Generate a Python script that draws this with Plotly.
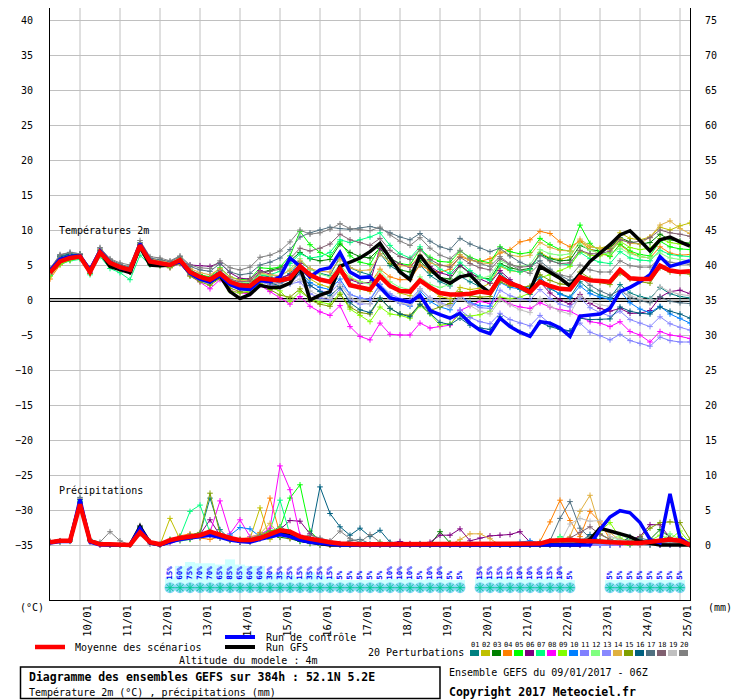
import pandas as pd
import plotly.graph_objects as go

# forecast steps (h) from the 09/01/2017 06Z run
hours = list(range(0, 385, 6))
times = pd.Timestamp("2017-01-09 06:00") + pd.to_timedelta(hours, unit="h")

# temperature 2m (C)
mean_t = [3.9, 5.5, 6.0, 6.2, 4.0, 6.8, 5.3, 4.7, 4.3, 7.8, 5.5, 5.3, 5.0,
          5.7, 4.0, 3.3, 2.9, 3.8, 2.6, 2.1, 2.0, 3.1, 3.0, 2.8, 3.1,
          4.8, 3.6, 2.9, 2.6, 4.5, 2.1, 1.8, 1.5, 3.4, 2.0, 1.3, 1.2, 2.8, 1.8, 1.0, 0.8,
          0.8, 0.9, 1.2, 1.0, 3.2, 2.4, 1.9, 1.1, 2.6, 2.0, 1.6, 1.5, 3.3, 2.8, 2.7, 2.6,
          4.3, 3.1, 3.0, 3.0, 4.9, 4.2, 4.0, 4.1]
ctrl_t = [4.2, 5.8, 6.2, 6.3, 4.3, 7.0, 5.4, 4.6, 4.3, 8.0, 5.6, 5.2, 5.0,
          5.5, 3.8, 3.0, 2.6, 3.5, 2.2, 1.6, 1.5, 2.8, 2.6, 3.3, 6.0,
          4.8, 3.3, 4.3, 4.6, 6.8, 4.0, 3.2, 3.3, 1.8, 0.3, 0.0, -0.3, 0.7, -1.5, -2.1, -2.6,
          -1.9, -3.3, -4.3, -4.8, -2.6, -3.8, -4.6, -5.2, -3.1, -3.3, -4.0, -5.2, -2.3, -2.2, -2.0, -1.2,
          1.2, 1.8, 2.6, 3.6, 6.2, 4.8, 5.2, 5.6]
gfs_t = [4.0, 5.6, 6.0, 6.2, 4.1, 6.9, 4.8, 4.3, 3.9, 7.6, 5.0, 4.9, 5.0,
         5.6, 3.9, 3.1, 2.6, 3.5, 1.2, 0.2, 0.8, 2.1, 1.8, 1.8, 2.4,
         4.8, 0.0, 0.7, 1.2, 4.8, 5.4, 6.0, 6.9, 8.1, 6.0, 4.0, 2.9, 6.4, 4.5, 3.1, 2.4,
         3.3, 3.6, 2.1, 1.0, 3.3, 2.4, 1.8, 1.3, 4.8, 4.0, 3.1, 2.0, 3.8, 5.5, 6.7, 7.9,
         9.3, 9.9, 8.5, 7.0, 8.6, 9.0, 8.3, 7.7]

p01_t = [4.2, 6.3, 6.6, 6.5, 4.4, 7.2, 5.6, 4.9, 4.6, 8.1, 5.9, 5.6, 5.2,
         5.9, 4.3, 3.6, 3.2, 4.3, 2.9, 2.4, 2.3, 3.6, 3.3, 2.9, 3.8,
         5.5, 4.4, 3.8, 3.5, 6.2, 4.6, 4.0, 3.6, 6.6, 4.9, 4.0, 3.3, 5.0, 3.5, 2.6, 2.0,
         3.4, 2.6, 1.9, 1.2, 3.8, 2.6, 1.5, 0.8, 2.9, 1.6, 0.9, 0.4, 2.6, 1.4, 0.7, 0.3,
         2.2, 1.0, 0.5, 0.2, 1.8, 0.9, 0.5, 0.3]
p02_t = [3.6, 5.2, 5.8, 6.0, 3.8, 6.6, 5.1, 4.5, 4.1, 7.6, 5.4, 5.1, 4.8,
         5.5, 3.6, 2.9, 2.5, 3.4, 2.1, 1.5, 1.3, 2.6, 2.2, 1.9, 2.5,
         4.4, 3.0, 2.2, 1.8, 4.0, 2.4, 1.6, 1.2, 3.5, 2.0, 1.0, 0.6, 2.8, 1.6, 0.5, 0.2,
         1.8, 1.5, 1.7, 2.4, 4.8, 4.2, 4.0, 4.3, 6.8, 6.0, 5.8, 6.2, 8.4, 7.6, 7.4, 7.8,
         9.6, 8.8, 8.6, 9.0, 10.4, 10.0, 10.6, 11.0]
p03_t = [4.1, 5.9, 6.4, 6.4, 4.2, 7.0, 5.2, 4.4, 4.0, 7.5, 5.2, 5.0, 4.8,
         5.4, 3.6, 2.8, 2.4, 3.5, 2.2, 1.9, 2.3, 3.9, 4.2, 4.6, 5.6,
         6.8, 5.9, 5.6, 5.8, 8.0, 6.8, 6.2, 6.0, 7.4, 5.2, 4.3, 4.0, 5.6, 4.0, 3.2, 3.0,
         4.9, 3.8, 3.2, 3.0, 5.2, 4.6, 4.3, 4.5, 6.6, 5.9, 5.6, 5.7, 7.8, 7.2, 7.0, 7.4,
         8.9, 8.3, 8.0, 8.2, 9.4, 8.6, 8.4, 8.1]
p04_t = [3.0, 5.0, 5.7, 6.0, 3.9, 6.5, 5.0, 4.3, 4.0, 7.3, 5.3, 5.2, 4.9,
         5.6, 3.9, 3.1, 2.7, 3.6, 2.4, 1.9, 1.7, 2.9, 2.6, 2.3, 3.0,
         4.8, 3.5, 2.9, 2.6, 4.6, 3.1, 2.6, 2.4, 4.4, 3.3, 2.9, 2.9, 5.0, 4.2, 4.0, 4.4,
         6.2, 5.7, 5.5, 5.9, 6.7, 7.2, 8.3, 8.6, 9.8, 9.5, 8.3, 7.6, 8.4, 7.2, 6.6, 6.3,
         7.9, 6.8, 6.2, 6.0, 7.6, 6.7, 6.4, 6.5]
p05_t = [4.3, 6.0, 6.4, 6.4, 4.1, 6.9, 5.5, 4.8, 4.5, 7.9, 5.6, 5.4, 5.2,
         6.0, 4.2, 3.6, 3.3, 4.6, 3.3, 2.9, 3.0, 4.6, 4.5, 4.7, 6.3,
         9.8, 7.9, 6.8, 6.2, 8.3, 6.3, 5.4, 5.1, 7.6, 6.0, 5.2, 5.0, 7.3, 6.1, 5.5, 5.4,
         7.0, 6.1, 5.6, 5.3, 7.6, 6.9, 6.6, 6.8, 8.8, 7.9, 7.2, 7.0, 10.7, 8.1, 6.9, 6.2,
         8.0, 7.0, 6.5, 6.3, 8.4, 7.6, 7.3, 7.2]
p06_t = [3.8, 5.6, 6.1, 6.2, 4.0, 6.6, 5.1, 4.6, 4.3, 7.7, 5.4, 5.2, 4.9,
         5.5, 5.0, 4.9, 4.8, 5.3, 3.9, 3.1, 3.0, 4.2, 3.7, 3.2, 3.6,
         5.2, 3.8, 3.1, 2.8, 4.4, 2.9, 2.4, 2.5, 7.4, 6.0, 5.1, 4.7, 6.3, 4.8, 3.9, 3.5,
         5.0, 3.9, 3.0, 2.4, 4.2, 2.9, 1.8, 1.2, 2.6, 1.0, 0.0, -0.6, 0.8, -0.5, -1.2, -1.6,
         -1.2, -1.9, -1.9, -1.5, 0.4, 1.2, 1.4, 0.9]
p07_t = [3.5, 5.1, 5.6, 5.8, 3.6, 6.2, 4.5, 3.9, 2.9, 6.4, 5.0, 4.9, 4.7,
         5.3, 3.8, 3.1, 2.7, 3.9, 2.6, 2.1, 2.0, 3.4, 3.6, 4.1, 5.2,
         6.6, 6.0, 6.2, 6.8, 8.6, 8.2, 8.6, 9.0, 9.6, 7.8, 6.6, 6.0, 7.6, 5.6, 4.4, 3.8,
         5.4, 4.2, 3.3, 2.8, 5.0, 4.3, 4.0, 4.4, 6.5, 5.7, 5.2, 5.0, 6.8, 5.9, 5.4, 5.2,
         6.9, 6.0, 5.7, 5.6, 7.1, 6.5, 6.3, 6.2]
p08_t = [3.7, 5.4, 5.9, 6.0, 3.9, 6.5, 5.0, 4.4, 4.0, 7.4, 5.2, 5.0, 4.6,
         5.2, 3.5, 2.6, 1.6, 2.9, 1.4, 1.0, 0.9, 2.1, 1.2, 0.3, -0.6,
         0.5, -0.9, -1.7, -2.2, -0.8, -3.8, -5.2, -5.7, -3.3, -4.9, -5.0, -5.0, -3.3, -4.0, -3.8, -3.6,
         -1.5, -0.8, -0.2, -0.5, 0.3, -0.6, -1.0, -1.2, -0.4, -1.0, -1.4, -1.6, -2.4, -3.1, -3.3, -3.8,
         -3.1, -4.5, -5.0, -6.0, -4.5, -5.0, -5.2, -5.5]
p09_t = [3.4, 5.1, 5.7, 6.0, 3.8, 6.4, 4.9, 4.4, 4.1, 7.5, 5.2, 5.0, 4.6,
         5.3, 3.6, 2.8, 2.3, 3.2, 1.3, 1.0, 1.3, 2.3, 1.8, 1.3, -0.2,
         1.2, 0.2, -0.3, -0.6, 1.0, -1.3, -2.2, -3.1, -1.0, -2.0, -2.2, -2.6, -0.8, -2.0, -3.6, -3.4,
         -2.0, -2.3, -2.1, -1.6, 0.4, 0.2, 0.4, 1.0, 3.2, 3.6, 4.2, 4.8, 7.0, 6.4, 6.3, 6.8,
         8.4, 7.5, 7.2, 7.4, 8.8, 8.2, 8.0, 7.8]
p10_t = [4.0, 5.7, 6.2, 6.3, 4.1, 6.9, 5.4, 4.7, 4.4, 7.9, 5.3, 5.1, 4.9,
         5.6, 3.8, 3.0, 2.6, 3.6, 2.5, 1.9, 1.8, 3.1, 2.8, 2.4, 2.9,
         4.1, 2.5, 1.8, 1.5, 3.0, 0.8, 0.3, 0.0, 2.2, 0.6, -0.4, -0.9, 1.3, -0.2, -1.0, -1.4,
         0.6, -0.4, -0.8, -0.9, 2.5, 1.8, 1.6, 1.9, 3.3, 1.8, 0.8, 0.3, 2.0, 0.9, 0.4, 0.1,
         1.3, -0.4, -1.3, -1.8, -0.9, -2.0, -2.6, -3.3]
p11_t = [3.8, 5.5, 6.0, 6.1, 3.9, 6.7, 5.2, 4.6, 4.2, 7.6, 5.4, 5.1, 4.8,
         5.5, 4.1, 3.4, 3.0, 4.0, 2.7, 2.2, 1.9, 3.0, 2.7, 2.0, 2.3,
         2.6, 0.9, 0.3, 0.0, 1.6, 0.0, -0.6, -0.5, 1.6, 0.2, -0.5, -0.8, 0.5, -1.3, -2.1, -2.6,
         -1.4, -2.5, -3.1, -3.4, -1.9, -2.8, -3.3, -3.7, -2.2, -3.4, -4.0, -4.5, -3.3, -4.6, -5.1, -5.7,
         -4.9, -5.8, -6.2, -6.6, -5.3, -5.8, -6.0, -6.0]
p12_t = [4.0, 5.8, 6.3, 6.4, 4.3, 7.1, 5.5, 4.8, 4.5, 7.9, 5.7, 5.5, 5.2,
         5.8, 4.1, 3.4, 3.1, 4.1, 2.9, 2.5, 2.5, 3.7, 3.5, 3.4, 4.4,
         5.9, 4.4, 3.7, 3.3, 5.1, 3.3, 2.6, 2.3, 4.1, 2.6, 1.8, 1.5, 3.3, 2.2, 1.8, 2.2,
         4.0, 3.3, 3.1, 3.4, 5.6, 5.0, 4.8, 5.0, 7.2, 6.6, 6.4, 6.6, 8.0, 7.1, 6.7, 6.6,
         7.4, 6.6, 6.2, 6.0, 6.7, 6.0, 5.8, 5.6]
p13_t = [3.9, 5.6, 6.1, 6.2, 4.0, 6.8, 5.4, 4.8, 4.4, 7.7, 5.5, 5.3, 5.0,
         5.5, 3.7, 2.7, 2.3, 3.6, 2.3, 1.6, 1.5, 2.6, 2.2, 1.8, 2.3,
         3.7, 2.0, 1.3, 1.0, 2.5, 0.8, 0.3, 0.1, 2.3, 0.9, 0.2, 0.0, 1.6, 0.3, -0.4, -0.8,
         0.6, -0.5, -1.1, -1.2, 1.4, 0.6, 0.2, 0.0, 1.5, 0.2, -0.6, -1.0, 0.3, -1.1, -1.8, -2.3,
         -1.6, -2.8, -3.3, -3.8, -2.4, -3.4, -3.9, -4.3]
p14_t = [4.2, 6.0, 6.4, 6.5, 4.4, 7.2, 5.7, 5.0, 4.6, 8.1, 5.9, 5.7, 5.4,
         6.0, 4.5, 3.9, 3.6, 4.5, 3.3, 2.8, 2.8, 3.9, 3.6, 3.5, 4.2,
         5.6, 4.5, 4.1, 4.0, 5.8, 4.6, 4.2, 4.3, 6.6, 5.4, 4.9, 4.8, 6.4, 5.3, 4.9, 5.0,
         6.5, 5.7, 5.3, 5.2, 7.0, 6.4, 6.2, 6.4, 8.2, 7.5, 7.1, 7.0, 8.7, 7.7, 7.3, 7.2,
         8.8, 8.1, 8.0, 9.0, 10.7, 11.3, 10.2, 9.5]
p15_t = [3.7, 5.4, 5.9, 6.1, 3.8, 6.5, 5.0, 4.4, 4.0, 7.4, 5.1, 4.9, 4.7,
         5.2, 3.4, 2.6, 2.1, 3.1, 1.7, 1.2, 1.0, 2.3, 1.5, 0.7, 0.4,
         1.6, 0.0, -0.6, -0.9, 0.8, -1.0, -1.8, -2.0, 0.2, -1.2, -2.0, -2.2, -0.6, -1.5, -1.0, -0.5,
         1.2, 0.6, 0.4, 0.5, 2.6, 2.0, 1.8, 2.0, 3.6, 2.8, 2.3, 2.1, 4.0, 3.1, 2.5, 2.2,
         3.8, 3.0, 2.6, 2.4, 4.6, 4.0, 3.8, 3.7]
p16_t = [4.3, 6.2, 6.5, 6.5, 4.3, 7.0, 5.5, 4.9, 4.5, 7.9, 5.7, 5.4, 5.1,
         5.7, 4.0, 3.2, 2.8, 3.8, 2.4, 1.8, 1.7, 2.9, 2.5, 2.0, 2.4,
         3.9, 2.1, 1.2, 0.6, 1.9, -0.4, -1.4, -1.8, 0.3, -1.2, -2.0, -2.4, -0.6, -1.9, -3.2, -3.5,
         -2.6, -3.6, -4.0, -4.2, -2.4, -3.6, -4.6, -5.0, -3.2, -3.8, -4.2, -4.4, -2.6, -2.8, -2.8, -2.7,
         -1.0, -1.6, -1.9, -2.0, -1.0, -1.6, -2.0, -2.6]
p17_t = [4.4, 6.4, 6.8, 6.6, 4.5, 7.4, 5.8, 5.1, 4.7, 8.2, 6.0, 5.8, 5.5,
         6.2, 4.8, 4.3, 4.1, 5.2, 4.0, 3.6, 3.8, 5.0, 5.4, 6.0, 7.2,
         9.0, 9.6, 10.0, 10.4, 10.2, 10.1, 10.3, 10.5, 10.2, 9.6, 9.0, 8.6, 9.5, 8.4, 7.6, 7.2,
         8.8, 8.0, 7.4, 6.9, 7.4, 6.3, 5.4, 4.8, 5.6, 4.4, 3.5, 2.8, 3.4, 2.1, 1.3, 0.7,
         1.4, 0.4, -0.1, -0.4, 0.5, -0.2, -0.4, -0.5]
p18_t = [4.1, 5.9, 6.3, 6.4, 4.2, 7.0, 5.4, 4.8, 4.4, 7.8, 5.6, 5.3, 5.1,
         5.7, 4.0, 3.4, 3.1, 4.2, 3.0, 2.6, 2.7, 4.0, 4.1, 4.4, 5.9,
         7.4, 7.0, 7.4, 8.0, 9.4, 8.6, 8.2, 7.8, 8.8, 7.1, 6.2, 5.8, 7.2, 5.8, 5.0, 4.7,
         6.1, 5.2, 4.6, 4.3, 5.9, 5.1, 4.7, 4.8, 6.4, 5.6, 5.2, 5.3, 7.1, 6.6, 6.6, 7.0,
         8.6, 8.2, 8.4, 8.9, 10.0, 9.6, 9.4, 9.1]
p19_t = [3.9, 5.6, 6.1, 6.3, 4.1, 6.9, 5.2, 4.5, 4.1, 7.6, 5.3, 5.2, 5.0,
         5.5, 3.9, 3.3, 2.9, 3.9, 2.7, 2.2, 2.1, 3.2, 2.8, 2.2, 2.4,
         3.0, 1.3, 0.6, 0.2, 2.2, 0.4, -0.3, -0.6, 1.8, 0.3, -0.4, -0.7, 1.6, 0.2, -0.6, -1.0,
         0.4, -0.8, -1.6, -2.0, 0.0, -0.7, -1.4, -1.8, 0.2, -0.9, -1.6, -2.0, 0.6, -0.2, -0.7, -0.9,
         1.4, 0.6, 0.2, 0.0, 1.9, 1.2, 0.8, 0.6]
p20_t = [4.5, 6.5, 6.8, 6.6, 4.6, 7.5, 5.9, 5.3, 5.0, 8.5, 6.2, 6.0, 5.6,
         6.3, 5.0, 4.6, 4.5, 5.6, 4.6, 4.3, 4.7, 6.1, 6.4, 7.0, 8.3,
         10.0, 9.4, 9.6, 10.1, 10.9, 10.2, 10.0, 9.9, 10.4, 9.3, 8.4, 7.8, 8.9, 7.4, 6.4, 5.9,
         7.1, 5.9, 5.2, 4.8, 6.2, 5.1, 4.3, 3.8, 5.2, 4.2, 3.6, 3.3, 5.0, 4.3, 4.0, 4.0,
         5.6, 4.9, 4.7, 4.7, 6.0, 5.4, 5.2, 5.1]

# precipitation (mm / 6h)
mean_p = [0.4, 0.6, 0.6, 5.8, 0.6, 0.1, 0.1, 0.0, 0.0, 1.8, 0.4, 0.1, 0.7,
          1.0, 1.2, 1.4, 1.9, 1.4, 1.0, 0.7, 0.7, 1.0, 1.5, 2.1, 1.9,
          1.2, 0.9, 0.6, 0.4, 0.2, 0.1, 0.1, 0.1, 0.1, 0.1, 0.1, 0.1, 0.1, 0.1, 0.2, 0.2,
          0.2, 0.2, 0.2, 0.1, 0.1, 0.2, 0.2, 0.1, 0.2, 0.6, 0.7, 0.7, 0.6, 0.6, 0.5, 0.4,
          0.3, 0.3, 0.3, 0.5, 0.6, 0.8, 0.6, 0.0]
ctrl_p = [0.3, 0.5, 0.5, 6.5, 0.4, 0, 0, 0, 0, 2.4, 0.3, 0, 0.4,
          0.8, 1.0, 1.2, 1.4, 1.1, 0.7, 0.5, 0.4, 0.8, 1.2, 1.5, 1.2,
          0.7, 0.4, 0.2, 0.1, 0, 0, 0, 0, 0, 0, 0, 0, 0, 0, 0, 0,
          0, 0, 0, 0, 0, 0, 0, 0, 0, 0, 0, 0, 0, 0, 2.2, 4.0,
          4.9, 4.6, 3.2, 0.8, 0.3, 7.3, 1.0, 0]
gfs_p = [0.4, 0.6, 0.6, 6.0, 0.6, 0.1, 0, 0, 0, 2.6, 0.3, 0, 0.5,
         0.9, 1.1, 1.3, 1.6, 1.2, 0.8, 0.6, 0.5, 0.9, 1.4, 1.7, 1.3,
         0.7, 0.4, 0.2, 0, 0, 0, 0, 0, 0, 0, 0, 0, 0, 0, 0, 0,
         0, 0, 0, 0, 0, 0, 0, 0, 0, 0, 0, 0, 0, 0.8, 2.4, 2.0,
         1.6, 1.2, 0.5, 0.2, 0, 0, 0, 0]

p01_p = [0.4, 0.6, 0.6, 6.2, 0.7, 0.1, 0, 0, 0, 2.2, 0.3, 0, 0.5,
         1.0, 1.3, 1.6, 6.7, 2.2, 0.8, 0.4, 0.6, 1.2, 1.8, 2.6, 1.8,
         0.8, 0.4, 0.2, 0.1, 0, 0, 0, 0, 0, 0.1, 0, 0, 0.2, 0, 0, 0,
         0, 0, 0, 0, 0, 0, 0, 0, 0, 0.1, 0.3, 0.6, 0.2, 0.1, 0, 0,
         0.2, 0.4, 0.1, 0, 0.3, 0.2, 0.1, 0]
p02_p = [0.3, 0.5, 0.5, 5.4, 0.5, 0, 0, 0, 0, 1.6, 0.2, 0, 3.8,
         0.8, 1.0, 1.4, 2.0, 1.1, 0.6, 0.8, 0.9, 5.3, 0.8, 1.6, 1.2,
         0.6, 0.3, 0.1, 0, 0, 0, 0, 0, 0, 0, 0, 0, 0, 0, 0, 0.2,
         0.1, 0, 0, 0, 0, 0, 0, 0.2, 0.3, 0.6, 0.4, 0.2, 0.8, 0.4, 0.2, 0.1,
         0.4, 1.1, 0.7, 0.3, 0.2, 0.6, 1.2, 0]
p03_p = [0.4, 0.5, 0.7, 6.0, 0.6, 0.1, 0, 0, 0, 2.6, 0.4, 0, 0.8,
         1.1, 0.9, 1.2, 1.6, 1.0, 0.7, 0.5, 0.4, 0.9, 1.4, 1.1, 0.9,
         0.5, 0.2, 0, 0, 0, 0, 0.2, 0, 0, 0, 0, 0, 0, 0, 1.9, 0.3,
         0, 0, 0, 0, 0, 0, 0, 0, 0, 0.2, 0.4, 0.3, 0, 0.1, 0.3, 0.6,
         0.4, 0.2, 0.1, 0.8, 2.2, 1.1, 0.3, 0]
p04_p = [0.5, 0.6, 0.6, 5.8, 0.5, 0, 0, 0, 0, 1.9, 0.3, 0, 0.6,
         1.3, 1.6, 1.0, 0.8, 1.2, 0.9, 0.6, 0.4, 1.8, 6.7, 1.6, 1.0,
         0.7, 0.3, 0.1, 0, 0, 0, 0, 0, 0, 0, 0.2, 0.1, 0, 0, 0, 0,
         0, 0.1, 0.2, 0, 0, 0, 0, 0, 0.5, 3.3, 6.4, 3.5, 1.2, 4.8, 3.3, 0.8,
         0.2, 0.1, 0, 0, 0, 0.2, 0.1, 0]
p05_p = [0.3, 0.5, 0.6, 5.6, 0.6, 0, 0, 0, 0, 2.0, 0.2, 0, 0.4,
         0.6, 0.8, 1.2, 1.7, 1.4, 0.9, 0.6, 0.8, 1.2, 2.0, 2.4, 6.7,
         8.6, 2.0, 0.6, 0.2, 0, 0, 0, 0, 0, 0, 0, 0, 0, 0, 0, 0,
         0, 0, 0, 0, 0, 0, 0, 0, 0.2, 0.4, 0.3, 0.1, 0, 0, 0.4, 0.2,
         0.1, 0, 0.3, 0.6, 0.4, 0.2, 0.1, 0]
p06_p = [0.4, 0.6, 0.6, 6.1, 0.6, 0.1, 0, 0, 0, 2.3, 0.4, 0, 0.5,
         0.9, 1.1, 1.5, 3.6, 1.4, 0.8, 0.4, 0.6, 1.0, 1.6, 2.2, 3.5,
         3.4, 1.6, 0.8, 0.4, 0.2, 0, 0, 0, 0, 0.3, 0.5, 0.2, 0.1, 0.4, 1.4, 1.4,
         2.3, 0.6, 1.0, 1.3, 1.4, 1.5, 1.9, 0.4, 0.2, 0.1, 0, 0, 0, 0.2, 0.3, 0.2,
         0.4, 0.8, 1.2, 2.9, 2.9, 1.0, 0.4, 0]
p07_p = [0.4, 0.5, 0.6, 6.4, 0.8, 0.2, 0, 0, 0, 2.1, 0.3, 0, 0.7,
         1.2, 4.8, 5.7, 1.8, 1.2, 0.8, 0.6, 0.9, 1.6, 2.1, 6.4, 1.5,
         0.6, 0.3, 0.1, 0, 0, 0, 0, 0, 0, 0, 0, 0, 0, 0, 0, 0,
         0.3, 0.1, 0, 0, 0, 0, 0, 0, 0, 0.4, 1.2, 0.6, 0.2, 0, 0, 0.5,
         0.8, 0.3, 0.1, 0, 0.2, 0.4, 0.1, 0]
p08_p = [0.3, 0.5, 0.6, 5.5, 0.5, 0, 0, 0, 0, 1.8, 0.2, 0, 0.3,
         0.7, 1.0, 1.3, 1.8, 6.3, 1.6, 3.6, 1.2, 1.4, 2.4, 11.3, 7.9,
         1.4, 0.6, 0.2, 0, 0, 0, 0, 0, 0, 0, 0, 0, 0, 0, 0, 0,
         0, 0, 0, 0, 0, 0, 0, 0, 0, 0, 0.2, 0.1, 0, 0, 0, 0,
         0, 0.2, 0.3, 0.1, 0, 0, 0, 0]
p09_p = [0.4, 0.6, 0.6, 5.9, 0.6, 0.1, 0, 0, 0, 2.0, 0.3, 0, 0.6,
         0.8, 1.2, 1.4, 1.5, 1.2, 1.0, 0.7, 0.6, 1.1, 1.7, 1.9, 1.4,
         1.0, 0.5, 0.2, 0.1, 0, 0, 0, 0, 0.4, 0.2, 0, 0, 0, 0, 0, 0,
         0, 0, 0, 0, 0, 0, 0, 0, 0, 0.3, 0.6, 0.2, 0.4, 1.0, 2.0, 3.2,
         1.0, 0.4, 0.2, 0.6, 1.4, 0.8, 2.0, 0.3]
p10_p = [0.4, 0.6, 0.6, 6.0, 0.6, 0.1, 0, 0, 0, 2.4, 0.3, 0, 0.5,
         1.0, 1.4, 1.7, 1.9, 1.3, 1.4, 2.5, 2.3, 1.2, 1.4, 1.9, 1.6,
         0.9, 0.5, 0.3, 0.1, 0, 0, 0, 0, 0, 0, 0, 0, 0, 0, 0, 0,
         0, 0, 0, 0, 0, 0, 0.4, 0.6, 0.3, 0.2, 0.1, 0, 0.6, 0.3, 0.1, 0,
         0.1, 0.3, 0.4, 0.2, 0.1, 0.2, 0.1, 0]
p11_p = [0.4, 0.5, 0.6, 5.7, 0.5, 0, 0, 0, 0, 1.7, 0.2, 0, 0.4,
         0.8, 1.1, 1.2, 1.4, 1.0, 0.8, 0.5, 0.4, 0.9, 1.3, 1.5, 1.3,
         0.8, 0.4, 0.2, 0, 0, 0, 0, 0, 0, 0, 0, 0, 0, 0, 0, 0,
         0, 0, 0, 0, 0, 0, 0, 0, 0, 0, 0.1, 0.2, 0.3, 0.1, 0, 0,
         0, 0.1, 0.2, 0.3, 0.4, 0.6, 0.3, 0]
p12_p = [0.3, 0.5, 0.6, 6.3, 0.7, 0.1, 0, 0, 0, 2.2, 0.3, 0, 0.6,
         1.0, 1.2, 1.4, 2.1, 1.4, 1.0, 0.8, 0.7, 1.3, 1.8, 2.4, 1.9,
         1.1, 0.6, 0.3, 0, 0, 0, 0, 0, 0.3, 0.2, 0, 0, 0, 0, 0, 0,
         0, 0, 0, 0, 0, 0, 0, 0, 0, 0.4, 1.1, 0.5, 0.2, 0.4, 0.8, 0.6,
         1.5, 0.8, 0.3, 0.2, 0.6, 1.6, 0.8, 0]
p13_p = [0.4, 0.6, 0.6, 5.2, 0.5, 0, 0, 0, 0, 1.6, 0.2, 0, 0.4,
         0.7, 1.0, 1.3, 1.5, 1.1, 0.8, 0.6, 0.5, 0.9, 1.4, 1.6, 1.5,
         0.9, 0.5, 0.2, 0, 0, 0, 0, 0, 0, 0, 0, 0, 0, 0, 0, 0,
         0, 0, 0, 0, 0, 0, 0, 0, 0, 0, 0.2, 0.3, 0.1, 0, 0, 0,
         0.2, 0.1, 0, 0, 0.3, 0.4, 0.2, 0]
p14_p = [0.4, 0.6, 0.6, 5.8, 0.5, 0.1, 0, 0, 0, 2.3, 0.3, 0, 0.6,
         1.0, 1.3, 1.5, 1.7, 1.2, 1.0, 0.8, 1.1, 1.6, 3.1, 1.4, 1.2,
         0.8, 0.5, 0.2, 0, 0, 0, 0, 0, 0, 0, 0, 0, 0, 0, 0, 0,
         0.8, 1.6, 1.6, 0.9, 0, 0, 0, 0, 0, 0.4, 0.6, 1.2, 4.8, 7.1, 2.4, 1.8,
         0.6, 0.3, 0.2, 0.4, 0.8, 0.5, 0.2, 0]
p15_p = [0.4, 0.5, 0.6, 5.9, 0.6, 0.1, 0, 0, 0, 2.1, 0.3, 0, 0.7,
         1.1, 1.4, 1.8, 7.4, 1.6, 0.9, 0.6, 0.8, 1.4, 2.0, 2.2, 1.7,
         0.9, 0.4, 0.2, 0, 0, 0, 0, 0, 0, 0, 0, 0, 0, 0, 0, 0,
         0, 0, 0, 0, 0, 0, 0, 0, 0, 0, 0.3, 0.6, 0.4, 0.8, 1.6, 0.8,
         0.4, 0.5, 1.1, 2.4, 3.2, 3.3, 3.2, 0.8]
p16_p = [0.4, 0.6, 0.7, 6.5, 0.6, 0.1, 0, 0, 0, 2.7, 0.4, 0, 0.6,
         1.0, 1.2, 1.5, 1.8, 1.2, 1.0, 0.7, 0.8, 1.2, 1.6, 1.8, 1.4,
         1.0, 0.9, 8.3, 4.5, 2.6, 1.4, 2.4, 1.2, 2.1, 0.4, 0.2, 0, 0, 0, 0, 0,
         0, 0, 0, 0, 0, 0, 0, 0, 0, 0, 0, 0.2, 0.4, 1.5, 0.6, 0.3,
         0.2, 1.2, 0.8, 0.2, 0, 0, 0, 0]
p17_p = [0.5, 0.6, 0.7, 6.8, 0.7, 0.2, 0, 0, 0, 2.5, 0.4, 0, 0.5,
         0.9, 1.1, 1.4, 1.6, 1.1, 0.9, 0.6, 0.7, 1.2, 1.5, 1.8, 1.5,
         1.0, 0.6, 0.3, 0.1, 0, 0.6, 0.8, 0.2, 0.1, 0, 0, 0, 0, 0, 0, 0,
         0, 0, 0, 0, 0, 0, 0, 0, 0, 0.6, 3.8, 6.2, 2.4, 1.0, 0.5, 0.6,
         0.4, 0.2, 1.0, 0.6, 0.3, 0.2, 0.1, 0]
p18_p = [0.4, 0.5, 0.6, 5.6, 0.5, 0.1, 0, 0, 0, 1.9, 0.3, 0, 0.5,
         0.8, 1.0, 1.2, 1.4, 1.0, 0.8, 0.6, 0.6, 1.0, 1.4, 1.6, 1.3,
         0.8, 0.4, 0.2, 0, 0, 0, 0, 0, 0, 0, 0, 0, 0, 0, 0, 0,
         0, 0, 0, 0, 0, 0, 0, 0, 0, 0, 0.4, 1.0, 1.8, 2.6, 1.5, 0.8,
         0.4, 0.6, 0.3, 0.2, 0.4, 0.3, 0.2, 0]
p19_p = [0.4, 0.5, 0.6, 5.3, 0.5, 0, 0, 0, 0, 1.7, 0.2, 0, 0.4,
         0.9, 1.1, 1.3, 1.5, 1.0, 0.8, 0.6, 0.5, 1.0, 1.4, 1.7, 1.4,
         0.8, 0.4, 0.2, 0, 0, 0, 0, 0, 0, 0, 0, 0, 0, 0, 0, 0,
         0, 0, 0, 0, 0, 0, 0, 0, 0, 0, 0.2, 3.0, 3.8, 3.4, 3.5, 1.2,
         0.8, 0.4, 0.2, 0.6, 0.4, 0.3, 0.2, 0]
p20_p = [0.5, 0.6, 0.7, 6.6, 0.8, 0.4, 1.9, 0.6, 0, 2.8, 0.5, 0.2, 0.6,
         1.1, 1.3, 1.5, 1.7, 1.3, 1.1, 0.8, 0.9, 1.3, 1.7, 2.0, 1.6,
         1.1, 1.4, 1.0, 0.6, 2.0, 0.9, 0.4, 1.5, 0.4, 0.2, 0, 0, 0, 0, 0, 0,
         0, 0, 0, 0, 0, 0, 0, 0, 0, 0, 0.2, 0.4, 0.8, 1.0, 0.6, 0.4,
         0.2, 0.3, 0.2, 0.1, 0.3, 0.5, 0.2, 0]

pert_colors = ["#008080", "#c0c000", "#008000", "#ff8000", "#00ff00",
               "#800080", "#00ff80", "#ff00ff", "#80ff00", "#0080ff",
               "#8080ff", "#80ff80", "#8888ff", "#e0b040", "#80a000",
               "#006080", "#507080", "#806070", "#c0c0c0", "#808080"]
pert_t = [p01_t, p02_t, p03_t, p04_t, p05_t, p06_t, p07_t, p08_t, p09_t, p10_t,
          p11_t, p12_t, p13_t, p14_t, p15_t, p16_t, p17_t, p18_t, p19_t, p20_t]
pert_p = [p01_p, p02_p, p03_p, p04_p, p05_p, p06_p, p07_p, p08_p, p09_p, p10_p,
          p11_p, p12_p, p13_p, p14_p, p15_p, p16_p, p17_p, p18_p, p19_p, p20_p]

# probability of snow (%) by forecast hour
snow_hours = [72, 78, 84, 90, 96, 102, 108, 114, 120, 126, 132, 138, 144, 150, 156,
              162, 168, 174, 180, 186, 192, 198, 204, 210, 216, 222, 228, 234, 240, 246,
              258, 264, 270, 276, 282, 288, 294, 300, 306, 312,
              336, 342, 348, 354, 360, 366, 372, 378]
snow_pct = [15, 60, 75, 70, 70, 65, 85, 65, 60, 60, 30, 35, 25, 15, 35,
            25, 15, 5, 5, 5, 5, 5, 10, 10, 10, 5, 10, 10, 5, 5,
            15, 15, 15, 15, 10, 10, 10, 15, 10, 5,
            5, 5, 5, 5, 5, 5, 5, 5]

day_labels = ["10/01", "11/01", "12/01", "13/01", "14/01", "15/01", "16/01", "17/01",
              "18/01", "19/01", "20/01", "21/01", "22/01", "23/01", "24/01", "25/01"]

for s in pert_t + pert_p + [mean_t, ctrl_t, gfs_t, mean_p, ctrl_p, gfs_p]:
    assert len(s) == len(hours), len(s)

MONO = "DejaVu Sans Mono"
# the page body has an 8px margin: the figure starts at (8, 8) in the window
OFF = 8
fig = go.Figure()

# snow row: cyan bars, flakes, percentages
snow_times = pd.Timestamp("2017-01-09 06:00") + pd.to_timedelta(snow_hours, unit="h")
fig.add_trace(go.Bar(x=snow_times, y=[p * 0.037 + 0.9 for p in snow_pct], base=-41.1,
                     width=6 * 3600 * 1000, marker=dict(color="#ccffff", line_width=0),
                     hoverinfo="skip"))
fig.add_trace(go.Scatter(x=snow_times, y=[-41.1] * len(snow_pct), mode="markers",
                         marker=dict(symbol="circle", size=11, color="#8cd6f6"),
                         hoverinfo="skip"))
fig.add_trace(go.Scatter(x=snow_times, y=[-41.1] * len(snow_pct), mode="markers",
                         marker=dict(symbol="asterisk-open", size=8,
                                     line=dict(width=1, color="#4a90f0")),
                         hoverinfo="skip"))

# perturbations
for col, t, p in zip(pert_colors, pert_t, pert_p):
    for vals, ax in ((t, "y"), (p, "y2")):
        fig.add_trace(go.Scatter(x=times, y=vals, yaxis=ax, mode="lines+markers",
                                 line=dict(color=col, width=1),
                                 marker=dict(symbol="cross-thin", size=4,
                                             line=dict(width=1, color=col)),
                                 hoverinfo="skip"))

# GFS, control, mean
for vals, ax, col, w in ((gfs_t, "y", "black", 3.5), (gfs_p, "y2", "black", 3.5),
                         (ctrl_t, "y", "#0000ff", 3.5), (ctrl_p, "y2", "#0000ff", 3.5),
                         (mean_t, "y", "#ff0000", 4.5), (mean_p, "y2", "#ff0000", 4.5)):
    fig.add_trace(go.Scatter(x=times, y=vals, yaxis=ax, mode="lines",
                             line=dict(color=col, width=w), hoverinfo="skip"))

shapes = []
for i in range(len(day_labels)):
    d = pd.Timestamp("2017-01-10") + pd.Timedelta(days=i)
    shapes.append(dict(type="line", xref="x", yref="paper", x0=d, x1=d, y0=0, y1=1,
                       line=dict(color="#c0c0c0", width=1), layer="below"))
for yz in (0.2, -0.2):
    shapes.append(dict(type="line", xref="paper", yref="y", x0=0, x1=1, y0=yz, y1=yz,
                       line=dict(color="black", width=1.2), layer="below"))

PW, PH = 640, 600 - OFF


def px(x, y):
    # window pixel position -> paper coordinates (plot area spans x 50..690, y 8..600)
    return (x - 50) / PW, (600 - y) / PH


def seg(x0, x1, y, color, w):
    a, b = px(x0, y)
    c, _ = px(x1, y)
    shapes.append(dict(type="line", xref="paper", yref="paper", x0=a, x1=c, y0=b, y1=b,
                       line=dict(color=color, width=w)))


seg(35, 65, 647, "#ff0000", 4.5)
seg(225, 255, 637, "#0000ff", 4)
seg(225, 255, 647, "black", 4)
bx0, by0 = px(20.5, 667)
bx1, by1 = px(440, 698.5)
shapes.append(dict(type="rect", xref="paper", yref="paper", x0=bx0, x1=bx1, y0=by1, y1=by0,
                   line=dict(color="black", width=1.5)))
for i, col in enumerate(pert_colors):
    a, b = px(470 + 11 * i, 650)
    c, d = px(479 + 11 * i, 656)
    shapes.append(dict(type="rect", xref="paper", yref="paper", x0=a, x1=c, y0=d, y1=b,
                       line=dict(width=0), fillcolor=col))

annotations = []


def text(x, y, s, size=10, anchor="left"):
    a, b = px(x, y)
    annotations.append(dict(xref="paper", yref="paper", x=a, y=b, text=s, showarrow=False,
                            xanchor=anchor, yanchor="middle",
                            font=dict(family=MONO, size=size, color="black")))


text(57, 231, "Températures 2m")
text(57, 490, "Précipitations")
text(18, 607, "(°C)")
text(706, 607, "(mm)")
text(73, 647, "Moyenne des scénarios")
text(264, 637, "Run de contrôle")
text(264, 647, "Run GFS")
text(177, 660, "Altitude du modele : 4m")
text(366, 652, "20 Perturbations")
for i in range(len(pert_colors)):
    text(474.5 + 11 * i, 644.5, f"{i + 1:02d}", size=7, anchor="center")
text(27, 677, "<b>Diagramme des ensembles GEFS sur 384h : 52.1N 5.2E</b>", size=11.5)
text(27, 692, "Température 2m (°C) , précipitations (mm)")
text(447, 672, "Ensemble GEFS du 09/01/2017 - 06Z")
text(447, 692, "<b>Copyright 2017 Meteociel.fr</b>", size=11.5)

for t, p in zip(snow_times, snow_pct):
    annotations.append(dict(xref="x", yref="y", x=t, y=-40.1, text=f"<b>{p}%</b>",
                            textangle=-90, showarrow=False, xanchor="center",
                            yanchor="bottom", borderpad=0,
                            font=dict(family=MONO, size=7.5, color="#0000ff")))

# 7 px per degree, 0 C at window y=300
y_top = (300 - OFF) / 7
y_bot = -300 / 7
fig.update_layout(
    width=740 - OFF, height=700 - OFF,
    margin=dict(l=50 - OFF, r=50, t=0, b=100),
    paper_bgcolor="white", plot_bgcolor="white",
    showlegend=False, hovermode=False,
    font=dict(family=MONO, size=10, color="black"),
    shapes=shapes, annotations=annotations,
    xaxis=dict(type="date", range=[times[0], times[-1]],
               tickvals=[pd.Timestamp("2017-01-10 04:30") + pd.Timedelta(days=i)
                         for i in range(len(day_labels))],
               ticktext=day_labels, tickangle=-90, tickfont=dict(size=10.5),
               showgrid=False, zeroline=False, showline=True, linecolor="black",
               linewidth=1, ticks="", fixedrange=True),
    yaxis=dict(range=[y_bot, y_top], tickvals=list(range(-35, 41, 5)),
               showgrid=True, gridcolor="#c0c0c0", gridwidth=1, zeroline=False,
               showline=True, linecolor="black", linewidth=1,
               ticks="outside", ticklen=14, tickcolor="rgba(0,0,0,0)", fixedrange=True),
    yaxis2=dict(range=[35 + y_bot, 35 + y_top], tickvals=list(range(0, 76, 5)),
                overlaying="y", side="right", showgrid=False, zeroline=False,
                showline=True, linecolor="black", linewidth=1,
                ticks="outside", ticklen=12, tickcolor="rgba(0,0,0,0)", fixedrange=True),
)

fig.write_html("out.html", config={"displayModeBar": False})
